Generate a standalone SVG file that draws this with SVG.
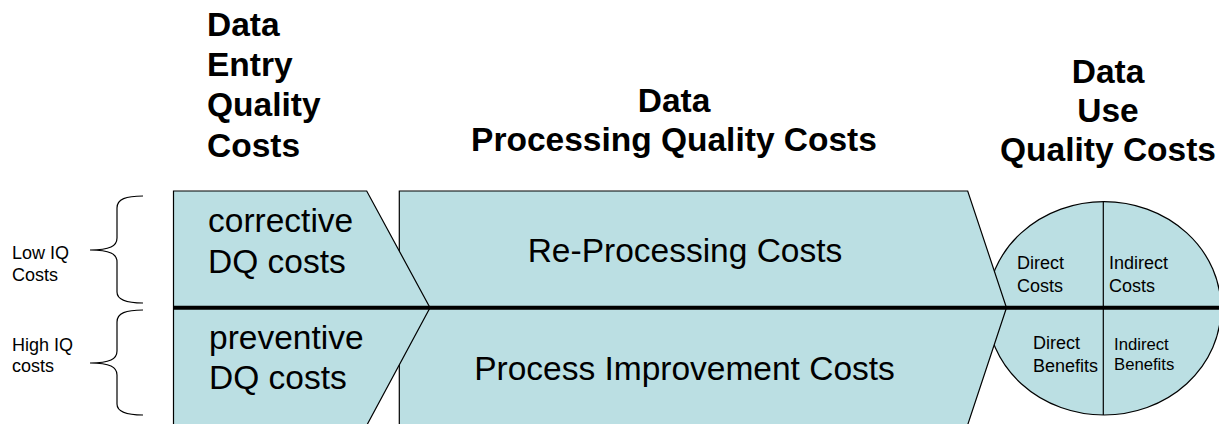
<svg xmlns="http://www.w3.org/2000/svg" width="1219" height="424" viewBox="0 0 1219 424">
  <style>
    .shape { fill: #BBDFE3; stroke: #000; stroke-width: 1.2; }
    .title { font-family: "Liberation Sans", Arial, sans-serif; font-weight: bold; font-size: 33.5px; fill: #000; }
    .big { font-family: "Liberation Sans", Arial, sans-serif; font-size: 33.5px; fill: #000; }
    .small { font-family: "Liberation Sans", Arial, sans-serif; font-size: 18px; fill: #000; }
    .smaller { font-size: 16.7px; }
    .brace { fill: none; stroke: #000; stroke-width: 1.2; }
    .axis { stroke: #000; stroke-width: 4; }
    .divider { stroke: #000; stroke-width: 1.2; }
  </style>

  <!-- column headings -->
  <g id="heading-entry">
    <text class="title" x="207" y="36">Data</text>
    <text class="title" x="207" y="76">Entry</text>
    <text class="title" x="207" y="116">Quality</text>
    <text class="title" x="207" y="157">Costs</text>
  </g>
  <g id="heading-processing" text-anchor="middle">
    <text class="title" x="674" y="112">Data</text>
    <text class="title" x="674" y="151">Processing Quality Costs</text>
  </g>
  <g id="heading-use" text-anchor="middle">
    <text class="title" x="1108" y="83">Data</text>
    <text class="title" x="1108" y="122">Use</text>
    <text class="title" x="1108" y="161">Quality Costs</text>
  </g>

  <!-- row brackets with labels -->
  <g id="low-iq">
    <path class="brace" d="M143,196 C126,196 117,199 117,208 L117,238 C117,246 110,250 90,250 C110,250 117,254 117,262 L117,292 C117,300 126,303 143,303"/>
    <text class="small" x="12" y="259">Low IQ</text>
    <text class="small" x="12" y="281">Costs</text>
  </g>
  <g id="high-iq">
    <path class="brace" d="M143,310 C126,310 117,313 117,322 L117,351 C117,359 110,363 90,363 C110,363 117,367 117,375 L117,404 C117,412 126,415 143,415"/>
    <text class="small" x="12" y="351">High IQ</text>
    <text class="small" x="12" y="372">costs</text>
  </g>

  <!-- data use: split ellipse -->
  <g id="data-use">
    <ellipse class="shape" cx="1104" cy="308.3" rx="117" ry="106.7"/>
    <line class="divider" x1="1103.3" y1="201.6" x2="1103.3" y2="415"/>
    <text class="small" x="1017" y="269">Direct</text>
    <text class="small" x="1017" y="292">Costs</text>
    <text class="small" x="1109" y="269">Indirect</text>
    <text class="small" x="1109" y="292">Costs</text>
    <text class="small" x="1033" y="349">Direct</text>
    <text class="small" x="1033" y="371.5">Benefits</text>
    <text class="small smaller" x="1114" y="350">Indirect</text>
    <text class="small smaller" x="1114" y="369.5">Benefits</text>
  </g>

  <!-- data processing arrow -->
  <g id="data-processing">
    <path class="shape" d="M399.3,191 L967.7,191 L1006.5,307.7 L967.3,426 L399.3,426 Z"/>
    <text class="big" x="685" y="262" text-anchor="middle">Re-Processing Costs</text>
    <text class="big" x="684.5" y="380" text-anchor="middle">Process Improvement Costs</text>
  </g>

  <!-- data entry arrow, overlapping the processing arrow -->
  <g id="data-entry">
    <path class="shape" d="M173.5,191 L366.7,191 L430,307.7 L366.4,426 L173.5,426 Z"/>
    <text class="big" x="208" y="232">corrective</text>
    <text class="big" x="208" y="273">DQ costs</text>
    <text class="big" x="209" y="349">preventive</text>
    <text class="big" x="209" y="389">DQ costs</text>
  </g>

  <!-- horizontal axis separating low and high IQ cost rows -->
  <g id="connectors">
    <line class="axis" x1="173" y1="307.7" x2="1219" y2="307.7"/>
  </g>
</svg>
